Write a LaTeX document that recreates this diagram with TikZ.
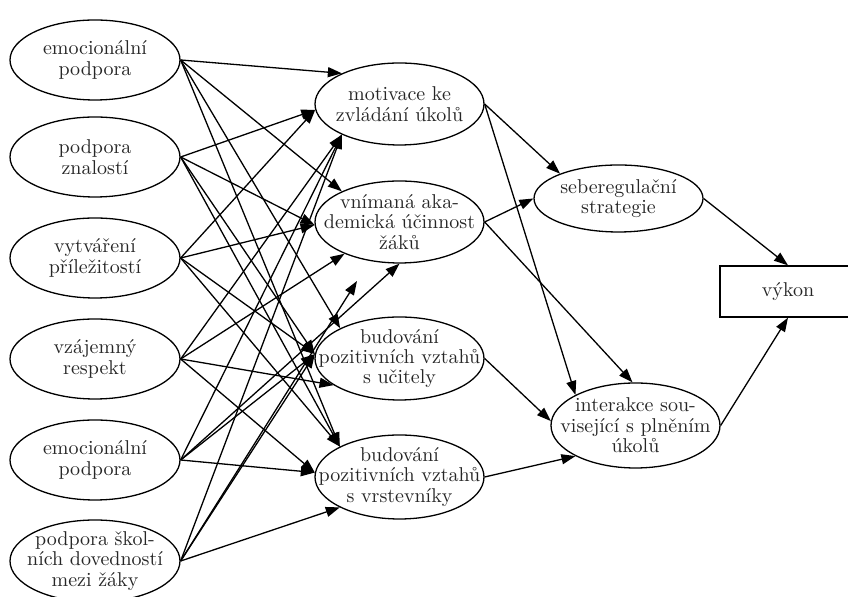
\documentclass[tikz,border=0pt]{standalone}
\usetikzlibrary{shapes.geometric,arrows.meta}
\begin{document}
\begin{tikzpicture}[x=0.5pt,y=-0.5pt,
  lab/.style={align=center,inner sep=0pt,text=black!85,font=\fontsize{10}{10.2}\selectfont},
  ell/.style={draw,ellipse,line width=0.65pt,inner sep=0pt,minimum width=85pt,minimum height=40pt},
  midell/.style={ell,minimum width=84.5pt,minimum height=41pt},
  box/.style={draw,rectangle,line width=0.65pt,inner sep=0pt,minimum width=68pt,minimum height=25.5pt,text=black!85,font=\fontsize{10}{10.2}\selectfont},
  arr/.style={line width=0.65pt,-{Triangle[length=7pt,width=5pt]}}
]
\useasboundingbox (0,0) rectangle (848,597);

% left column
\node[ell,label={[lab]center:emocionální\\podpora}] (n1) at (95,60) {};
\node[ell,label={[lab]center:podpora\\znalostí}] (n2) at (95,157) {};
\node[ell,label={[lab]center:vytváření\\příležitostí}] (n3) at (95,258) {};
\node[ell,label={[lab]center:vzájemný\\respekt}] (n4) at (95,359) {};
\node[ell,label={[lab]center:emocionální\\podpora}] (n5) at (95,460) {};
\node[ell,minimum height=41pt,label={[lab]center:podpora škol-\\ních dovedností\\mezi žáky}] (n6) at (95,561) {};

% middle column
\node[midell,label={[lab]center:motivace ke\\zvládání úkolů}] (m1) at (399.5,104) {};
\node[midell,label={[lab]center:vnímaná aka-\\demická účinnost\\žáků}] (m2) at (399.5,222) {};
\node[midell,minimum height=41.5pt,label={[lab]center:budování\\pozitivních vztahů\\s učitely}] (m3) at (399.5,358.5) {};
\node[midell,minimum height=42pt,label={[lab]center:budování\\pozitivních vztahů\\s vrstevníky}] (m4) at (399.5,477) {};

% right side
\node[midell,minimum height=33.5pt,label={[lab]center:seberegulační\\strategie}] (s) at (618.5,198.5) {};
\node[midell,minimum height=42.5pt,label={[lab]center:interakce sou-\\visející s plněním\\úkolů}] (ia) at (635.5,425.5) {};
\node[box] (v) at (788,291.5) {výkon};

\coordinate (s6) at (357,281);

% edges from left column
\draw[arr] (n1.east) -- (m1.152);
\draw[arr] (n1.east) -- (m2.152);
\draw[arr] (n1.east) -- (m3.153);
\draw[arr] (n1.east) -- (m4.153);

\draw[arr] (n2.east) -- (m1.184);
\draw[arr] (n2.east) -- (m2.182);
\draw[arr] (n2.east) -- (m3.177);
\draw[arr] (n2.east) -- (m4.153);

\draw[arr] (n3.east) -- (m1.184);
\draw[arr] (n3.east) -- (m2.182);
\draw[arr] (n3.east) -- (m3.177);
\draw[arr] (n3.east) -- (m4.153);

\draw[arr] (n4.east) -- (m1.208);
\draw[arr] (n4.east) -- (m2.210);
\draw[arr] (n4.east) -- (m3.202);
\draw[arr] (n4.east) -- (m4.177);

\draw[arr] (n5.east) -- (m1.208);
\draw[arr] (n5.east) -- (m2.south);
\draw[arr] (n5.east) -- (m3.177);
\draw[arr] (n5.east) -- (m4.177);

\draw[arr] (n6.east) -- (m1.208);
\draw[arr] (n6.east) -- (s6);
\draw[arr] (n6.east) -- (m3.177);
\draw[arr] (n6.east) -- (m4.207);

% middle to right
\draw[arr] (m1.east) -- (s.157);
\draw[arr] (m1.east) -- (ia.153);
\draw[arr] (m2.east) -- (s.west);
\draw[arr] (m2.east) -- (ia.94);
\draw[arr] (m3.east) -- (ia.177);
\draw[arr] (m4.east) -- (ia.207);
\draw[arr] (s.east) -- (v.north);
\draw[arr] (ia.east) -- (v.south);
\end{tikzpicture}
\end{document}
